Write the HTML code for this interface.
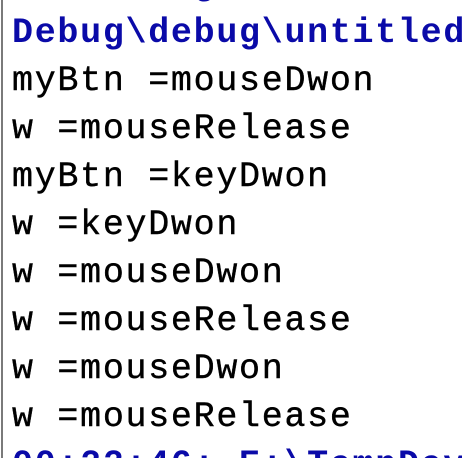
<!DOCTYPE html>
<html><head><meta charset="utf-8"><style>
html,body{margin:0;padding:0;background:#fff;width:462px;height:458px;overflow:hidden;}
.w{position:relative;width:462px;height:458px;overflow:hidden;}
.b{position:absolute;left:1px;top:0;width:2px;height:458px;background:#7a7a7a;}
.t{position:absolute;left:12px;top:-39px;font-family:"Liberation Mono",monospace;font-size:35px;letter-spacing:1.7px;line-height:48px;white-space:pre;color:#000;-webkit-text-stroke:0.4px #000;}
.blue{color:#0a0aa8;font-weight:bold;-webkit-text-stroke:0;}
</style></head><body>
<div class="w">
<div class="b"></div>
<div class="t"><div class="blue">        g</div><div class="blue">Debug\debug\untitled</div><div>myBtn =mouseDwon</div><div>w =mouseRelease</div><div>myBtn =keyDwon</div><div>w =keyDwon</div><div>w =mouseDwon</div><div>w =mouseRelease</div><div>w =mouseDwon</div><div>w =mouseRelease</div><div class="blue">00:22:46: E:\TempDev</div></div>
</div>
</body></html>
